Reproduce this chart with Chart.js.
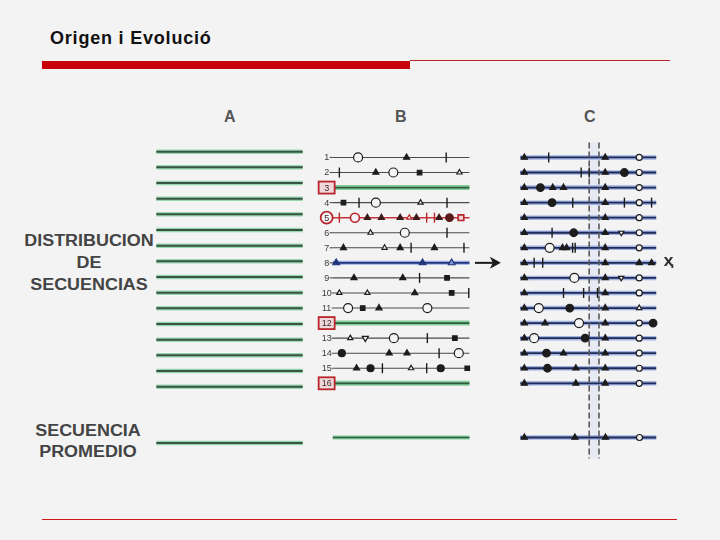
<!DOCTYPE html>
<html>
<head>
<meta charset="utf-8">
<script src="https://cdn.jsdelivr.net/npm/chart.js@4.4.1/dist/chart.umd.min.js"></script>
<style>
  body { margin: 0; background: #f3f3f3; }
  #page { position: relative; width: 720px; height: 540px; overflow: hidden; background: #f3f3f3; font-family: "Liberation Sans", Arial, sans-serif; }
  .abs { position: absolute; }
  #title { left: 50px; top: 28px; font-size: 18px; font-weight: bold; color: #111; letter-spacing: 0.8px; font-family: "Liberation Sans", Arial, sans-serif; }
  #barThick { left: 42px; top: 61px; width: 368px; height: 8px; background: #c8000a; }
  #barThin { left: 410px; top: 60px; width: 260px; height: 1px; background: #b8262c; }
  #barBottom { left: 42px; top: 519px; width: 635px; height: 1px; background: #d01818; }
  .lbl { color: #444; font-weight: bold; font-size: 16px; text-align: center; width: 150px; transform: scaleX(1.12); }
  .head { color: #555; font-weight: bold; font-size: 16px; }
  canvas { position: absolute; }
</style>
</head>
<body>
<div id="page">
  <div id="title" class="abs">Origen i Evolució</div>
  <div id="barThick" class="abs"></div>
  <div id="barThin" class="abs"></div>
  <div id="barBottom" class="abs"></div>

  <div class="abs head" style="left:224px; top:108px;">A</div>
  <div class="abs head" style="left:395px; top:108px;">B</div>
  <div class="abs head" style="left:584px; top:108px;">C</div>

  <div class="abs lbl" style="left:14px; top:232px;">DISTRIBUCION</div>
  <div class="abs lbl" style="left:14px; top:254px;">DE</div>
  <div class="abs lbl" style="left:14px; top:276px;">SECUENCIAS</div>
  <div class="abs lbl" style="left:13px; top:422px;">SECUENCIA</div>
  <div class="abs lbl" style="left:13px; top:443px;">PROMEDIO</div>

  <canvas id="chartA" width="161" height="329" style="left:149px; top:136px;"></canvas>
  <canvas id="chartB" width="200" height="329" style="left:310px; top:136px;"></canvas>
  <canvas id="chartC" width="180" height="329" style="left:503px; top:136px;"></canvas>
</div>
<script>
// rows of the figure (sequences 1..16) and the averaged sequence
var rows = [1, 2, 3, 4, 5, 6, 7, 8, 9, 10, 11, 12, 13, 14, 15, 16];
var avgRow = 19.6;
var rowLabelsB = ["1", "2", "3", "4", "5", "6", "7", "8", "9", "10", "11", "12", "13", "14", "15", "16"];
var greenRowsB = [3, 12, 16];
var redRowB = 5;
var blueRowB = 8;

// panel B marks : [row, position along sequence 0..100]
var bCircle = [[1, 18.5], [2, 44.3], [4, 31.5], [6, 52.7], [11, 11.2], [11, 69.2], [13, 44.7], [14, 92.2]];
var bStar = [[1, 54], [2, 31.5], [7, 7.8], [7, 49.3], [7, 74.4], [9, 15.5], [9, 51.2], [10, 60], [11, 33.8], [14, 41.3], [14, 54.3], [15, 17.4]];
var bSquare = [[2, 63.5], [4, 7.8], [9, 83.6], [10, 87], [11, 21.9], [13, 89.3], [15, 98.4]];
var bBar = [[1, 83], [2, 4.8], [4, 19.2], [4, 83.6], [6, 83.6], [7, 57.3], [7, 96], [9, 63.5], [10, 99.5], [13, 69.2], [14, 77.8], [15, 36.3], [15, 68.7]];
var bTri = [[2, 92.7], [4, 64.2], [6, 27.6], [7, 37.9], [10, 4.8], [10, 25.3], [13, 12.8], [15, 57.3]];
var bInvTri = [[13, 23.8]];
var bDot = [[14, 6.6], [15, 27.6], [15, 79]];
// red sequence (row 5)
var redBar = [4.8, 68.7, 74.4];
var redCircle = [16.2];
var redStar = [25.3, 35.6, 49.3, 61.2, 77.8];
var redTri = [56];
var redDot = [85.4];
var redSquare = [93.8];
// blue sequence (row 8)
var blueStar = [2.5, 65.7];
var blueTri = [87];

// panel C marks
var cStar = [[1, 3], [1, 62.5], [2, 3], [2, 62.5], [3, 3], [3, 23.9], [3, 31.8], [3, 62.5], [4, 3], [4, 62.5],
  [5, 3], [5, 62.5], [6, 3], [6, 62.5], [7, 3], [7, 31.1], [7, 34.1], [7, 62.5], [8, 3], [8, 62.5], [8, 87.5], [8, 96.6],
  [9, 3], [9, 62.5], [10, 3], [10, 62.5], [11, 3], [11, 62.5], [12, 3], [12, 18.2], [12, 62.5], [13, 3], [13, 62.5],
  [14, 3], [14, 31.8], [14, 62.5], [15, 3], [15, 40.9], [15, 62.5], [16, 3], [16, 40.9], [16, 62.5],
  [19.6, 3], [19.6, 40.2], [19.6, 62.7]];
var cSmallCircle = [[1, 87.5], [2, 87.5], [3, 87.5], [4, 87.5], [5, 87.5], [6, 87.5], [7, 87.5], [9, 87.5], [10, 87.5],
  [12, 87.5], [13, 87.5], [14, 87.5], [15, 87.5], [16, 87.5], [19.6, 87.7]];
var cBigCircle = [[7, 21.6], [9, 39.8], [11, 13.6], [12, 43.2], [13, 10.2]];
var cDot = [[2, 76.6], [3, 14.8], [4, 23.4], [6, 39.3], [11, 36.4], [12, 97.7], [13, 47.7], [14, 19.3], [15, 20]];
var cBar = [[1, 20.9], [2, 44.8], [2, 50.7], [4, 38.6], [4, 76.6], [4, 96.6], [6, 23.4], [7, 38.5], [7, 40.4], [8, 10.2], [8, 16.5],
  [10, 31.8], [10, 46.6], [10, 56.8]];
var cInvTri = [[6, 74.3], [9, 74.3]];
var cTri = [[11, 87.5]];
var cDashes = [50.7, 57.9];

var INK = "#1c1c1c";

function pts(list) {
  return list.map(function (p) { return { x: p[1], y: p[0] }; });
}
function rowPts(row, list) {
  return list.map(function (v) { return { x: v, y: row }; });
}
function seqLine(row, color, width) {
  return { type: "scatter", showLine: true, data: [{ x: 0, y: row }, { x: 100, y: row }], borderColor: color,
    borderWidth: width, pointRadius: 0, order: 3, clip: false };
}
function marks(data, style, radius, fill, stroke, extra) {
  var d = { type: "scatter", data: data, pointStyle: style, pointRadius: radius, backgroundColor: fill,
    borderColor: stroke, borderWidth: 1.2, order: 1, clip: false };
  if (extra) for (var k in extra) d[k] = extra[k];
  return d;
}

function baseOptions(xmin, xmax) {
  return {
    responsive: false,
    animation: false,
    devicePixelRatio: 1,
    layout: { padding: 0 },
    plugins: { legend: { display: false }, tooltip: { enabled: false } },
    scales: {
      x: { type: "linear", min: xmin, max: xmax, display: false },
      y: { type: "linear", min: 0, max: 21, reverse: true, display: false }
    }
  };
}

// ---------- panel A ----------
var dsA = [];
rows.concat([avgRow]).forEach(function (r) {
  var halo = seqLine(r, "rgba(120,205,150,0.75)", 4.5);
  halo.order = 4;
  dsA.push(halo);
  dsA.push(seqLine(r, "#3a5244", 2));
});
new Chart(document.getElementById("chartA"), {
  type: "scatter",
  data: { datasets: dsA },
  options: baseOptions(-5, 105)
});

// ---------- panel B ----------
var dsB = [];
rows.forEach(function (r) {
  if (greenRowsB.indexOf(r) >= 0) {
    var g = seqLine(r, "rgba(110,200,140,0.85)", 5);
    g.order = 4;
    dsB.push(g);
    dsB.push(seqLine(r, "#2f5a40", 1.8));
  } else if (r === redRowB) {
    dsB.push(seqLine(r, "#c8343a", 1.6));
  } else if (r === blueRowB) {
    var b = seqLine(r, "rgba(90,120,220,0.6)", 4);
    b.order = 4;
    dsB.push(b);
    dsB.push(seqLine(r, "#23357a", 1.8));
  } else {
    dsB.push(seqLine(r, "#4a4a4a", 1.1));
  }
});
var gAvg = seqLine(avgRow, "rgba(110,200,140,0.85)", 4);
gAvg.order = 4;
dsB.push(gAvg);
dsB.push(seqLine(avgRow, "#2f5a40", 1.6));

dsB.push(marks(pts(bCircle), "circle", 4.5, "#f5f5f5", INK));
dsB.push(marks(pts(bStar), "triangle", 3.5, INK, INK));
dsB.push(marks(pts(bSquare), "rect", 3.2, INK, INK));
dsB.push(marks(pts(bBar), "line", 5, INK, INK, { rotation: 90, borderWidth: 1.4 }));
dsB.push(marks(pts(bTri), "triangle", 3, "#f5f5f5", INK));
dsB.push(marks(pts(bInvTri), "triangle", 3.5, "#f5f5f5", INK, { rotation: 180 }));
dsB.push(marks(pts(bDot), "circle", 3.5, INK, INK));

var RED = "#b8262c";
dsB.push(marks(rowPts(redRowB, redBar), "line", 5, RED, RED, { rotation: 90, borderWidth: 1.4 }));
dsB.push(marks(rowPts(redRowB, redCircle), "circle", 4.5, "#f5f5f5", RED, { borderWidth: 1.6 }));
dsB.push(marks(rowPts(redRowB, redStar), "triangle", 3.5, "#3a1a1a", "#3a1a1a"));
dsB.push(marks(rowPts(redRowB, redTri), "triangle", 3, "#f5f5f5", RED));
dsB.push(marks(rowPts(redRowB, redDot), "circle", 3.8, "#5a1a1a", "#5a1a1a"));
dsB.push(marks(rowPts(redRowB, redSquare), "rect", 4, "#f5d5d5", RED, { borderWidth: 1.6 }));

var BLUE = "#23357a";
dsB.push(marks(rowPts(blueRowB, blueStar), "triangle", 3.8, BLUE, BLUE));
dsB.push(marks(rowPts(blueRowB, blueTri), "triangle", 3.8, "#7f9be0", BLUE));

var labelsBPlugin = {
  id: "labelsB",
  afterDatasetsDraw: function (chart) {
    var ctx = chart.ctx;
    var xs = chart.scales.x, ys = chart.scales.y;
    var lx = xs.getPixelForValue(-4.5);
    ctx.save();
    ctx.font = "9px 'Liberation Sans', Arial, sans-serif";
    ctx.textAlign = "center";
    ctx.textBaseline = "middle";
    rows.forEach(function (r, i) {
      var y = ys.getPixelForValue(r);
      if (greenRowsB.indexOf(r) >= 0) {
        ctx.fillStyle = "#f0d8da";
        ctx.fillRect(lx - 8, y - 6, 16, 12);
        ctx.strokeStyle = "#b8262c";
        ctx.lineWidth = 1.8;
        ctx.strokeRect(lx - 8, y - 6, 16, 12);
        ctx.fillStyle = "#3a2a2a";
        ctx.fillText(rowLabelsB[i], lx, y + 0.5);
      } else if (r === redRowB) {
        ctx.strokeStyle = "#b8262c";
        ctx.lineWidth = 1.8;
        ctx.beginPath();
        ctx.arc(lx, y, 6, 0, Math.PI * 2);
        ctx.stroke();
        ctx.fillStyle = "#3a2a2a";
        ctx.fillText(rowLabelsB[i], lx, y + 0.5);
      } else {
        ctx.fillStyle = "#3a3a3a";
        ctx.fillText(rowLabelsB[i], lx, y + 0.5);
        ctx.strokeStyle = "#4a4a4a";
        ctx.lineWidth = 1.1;
        ctx.beginPath();
        ctx.moveTo(lx + (rowLabelsB[i].length > 1 ? 5 : 3), y);
        ctx.lineTo(xs.getPixelForValue(0), y);
        ctx.stroke();
      }
    });
    // arrow from panel B to panel C on the blue sequence
    var ay = ys.getPixelForValue(blueRowB);
    var a0 = xs.getPixelForValue(104), a1 = xs.getPixelForValue(123);
    ctx.strokeStyle = "#1a1a1a";
    ctx.fillStyle = "#1a1a1a";
    ctx.lineWidth = 2;
    ctx.beginPath();
    ctx.moveTo(a0, ay);
    ctx.lineTo(a1 - 8, ay);
    ctx.stroke();
    ctx.beginPath();
    ctx.moveTo(a1, ay);
    ctx.lineTo(a1 - 11, ay - 6);
    ctx.lineTo(a1 - 8, ay);
    ctx.lineTo(a1 - 11, ay + 6);
    ctx.closePath();
    ctx.fill();
    ctx.restore();
  }
};

new Chart(document.getElementById("chartB"), {
  type: "scatter",
  data: { datasets: dsB },
  options: baseOptions(-12, 125),
  plugins: [labelsBPlugin]
});

// ---------- panel C ----------
var dsC = [];
rows.concat([avgRow]).forEach(function (r) {
  var halo = seqLine(r, "rgba(95,125,215,0.55)", 4.5);
  halo.order = 4;
  dsC.push(halo);
  dsC.push(seqLine(r, "#1f2a55", 1.8));
});
cDashes.forEach(function (x) {
  dsC.push({ type: "scatter", showLine: true, data: [{ x: x, y: 0 }, { x: x, y: 21 }], borderColor: "#5a5a5a",
    borderWidth: 1.6, borderDash: [6, 3], pointRadius: 0, order: 2, clip: false });
});
dsC.push(marks(pts(cStar), "triangle", 3.5, INK, INK));
dsC.push(marks(pts(cSmallCircle), "circle", 3, "#f5f5f5", INK));
dsC.push(marks(pts(cBigCircle), "circle", 4.5, "#f5f5f5", INK));
dsC.push(marks(pts(cDot), "circle", 3.8, INK, INK));
dsC.push(marks(pts(cBar), "line", 5, INK, INK, { rotation: 90, borderWidth: 1.4 }));
dsC.push(marks(pts(cInvTri), "triangle", 3, "#f5f5f5", INK, { rotation: 180 }));
dsC.push(marks(pts(cTri), "triangle", 3, "#f5f5f5", INK));

var bandPlugin = {
  id: "bandC",
  beforeDatasetsDraw: function (chart) {
    var ctx = chart.ctx, xs = chart.scales.x, ys = chart.scales.y;
    ctx.save();
    ctx.fillStyle = "rgba(150,175,235,0.12)";
    var x0 = xs.getPixelForValue(cDashes[0]), x1 = xs.getPixelForValue(cDashes[1]);
    ctx.fillRect(x0, ys.getPixelForValue(0), x1 - x0, ys.getPixelForValue(21) - ys.getPixelForValue(0));
    ctx.restore();
  },
  afterDatasetsDraw: function (chart) {
    var ctx = chart.ctx, xs = chart.scales.x, ys = chart.scales.y;
    ctx.save();
    ctx.font = "bold 13px 'DejaVu Sans', sans-serif";
    ctx.fillStyle = "#333";
    ctx.textAlign = "center";
    ctx.textBaseline = "middle";
    ctx.fillText("Ҳ", xs.getPixelForValue(109), ys.getPixelForValue(blueRowB));
    ctx.restore();
  }
};

new Chart(document.getElementById("chartC"), {
  type: "scatter",
  data: { datasets: dsC },
  options: baseOptions(-8, 115),
  plugins: [bandPlugin]
});
</script>
</body>
</html>
